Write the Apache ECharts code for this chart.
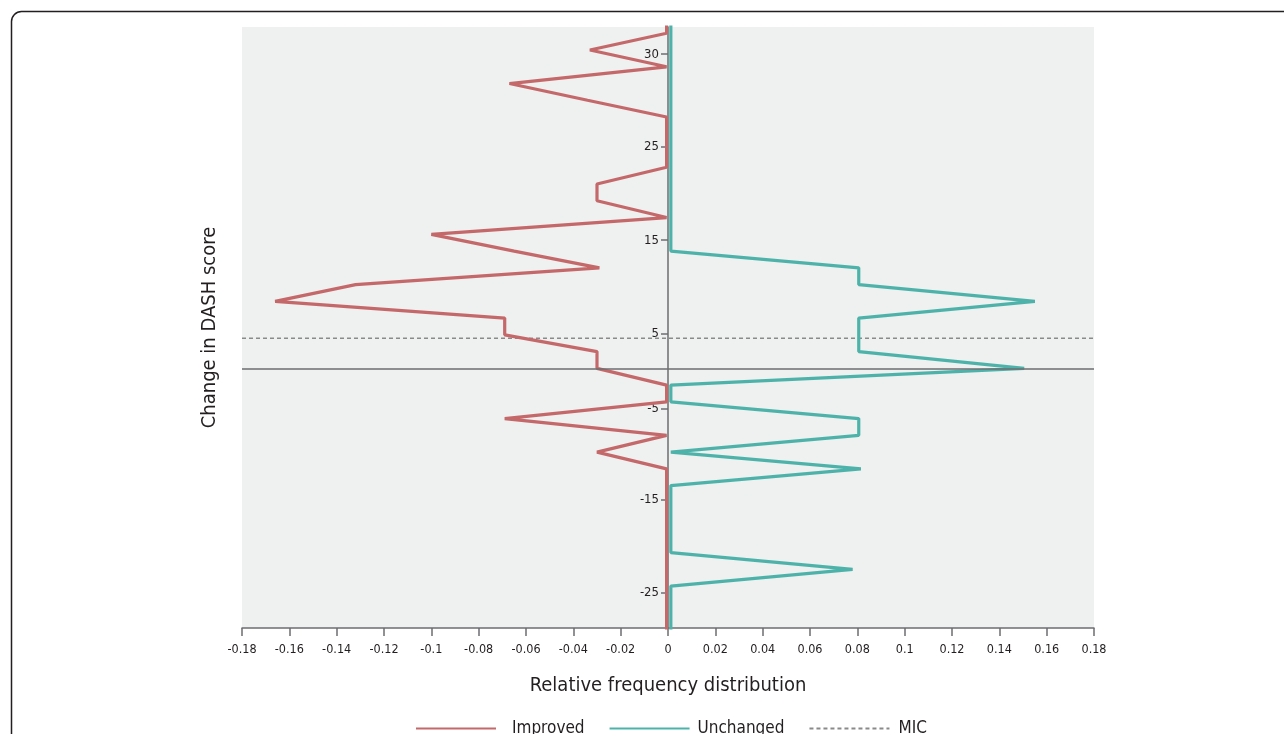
<!DOCTYPE html>
<html>
<head>
<meta charset="utf-8">
<script src="https://cdn.jsdelivr.net/npm/echarts@6/dist/echarts.min.js"></script>
<style>
  html, body { margin: 0; padding: 0; background: #fff; }
  #chart { width: 1284px; height: 734px; }
</style>
</head>
<body>
<div id="chart"></div>
<script>
// vertical position of every polygon vertex (score bins, step 2)
const scoreBins = [42, 40, 38, 36, 34, 32, 30, 28, 26, 24, 22, 20, 18, 16, 14, 12, 10, 8, 6, 4, 2, 0,
  -2, -4, -6, -8, -10, -12, -14, -16, -18, -20, -22, -24, -26, -28, -30, -32];

// relative frequency, improved group (drawn to the left)
const improved = [-0.0006, -0.0006, -0.033, -0.0006, -0.067, -0.034, -0.0006, -0.0006, -0.0006, -0.0006,
  -0.030, -0.030, -0.0006, -0.100, -0.065, -0.029, -0.132, -0.166, -0.069, -0.069, -0.030, -0.030,
  -0.0006, -0.0006, -0.069, -0.0006, -0.030, -0.0006, -0.0006, -0.0006, -0.0006, -0.0006, -0.0006,
  -0.0006, -0.0006, -0.0006, -0.0006, -0.0006];

// relative frequency, unchanged group (drawn to the right)
const unchanged = [0.0012, 0.0012, 0.0012, 0.0012, 0.0012, 0.0012, 0.0012, 0.0012, 0.0012, 0.0012,
  0.0012, 0.0012, 0.0012, 0.0012, 0.0012, 0.0806, 0.0806, 0.155, 0.0806, 0.0806, 0.0806, 0.1505,
  0.0012, 0.0012, 0.0806, 0.0806, 0.0012, 0.0815, 0.0012, 0.0012, 0.0012, 0.0012, 0.0012,
  0.078, 0.0012, 0.0012, 0.0012, 0.0012];

const micValue = 3.6;

// y tick labels as printed on the figure, and where they sit
const yTickPos = [37.5, 26.5, 15.3, 4.1, -4.8, -15.7, -26.8];
const yTickText = ['30', '25', '15', '5', '-5', '-15', '-25'];

const font = "'DejaVu Sans Condensed','Liberation Sans Narrow',sans-serif";
const axisGrey = '#6d6e71';
const textCol = '#231f20';

const chart = echarts.init(document.getElementById('chart'));

const option = {
  animation: false,
  textStyle: { fontFamily: font, color: textCol },
  graphic: [{
    type: 'rect',
    left: 9, top: 9,
    silent: true,
    shape: { width: 1400, height: 900, r: 10 },
    style: { fill: 'none', stroke: textCol, lineWidth: 1.5 }
  }],
  grid: {
    left: 242, right: 190, top: 27, bottom: 106,
    containLabel: false, outerBoundsMode: 'none',
    show: true, backgroundColor: '#eff0f0', borderWidth: 0
  },
  legend: {
    left: 410, top: 715,
    itemWidth: 80, itemHeight: 12, itemGap: 24,
    itemStyle: { opacity: 0 },
    textStyle: { fontFamily: font, fontSize: 17, color: textCol, padding: [0, 0, 0, 4] },
    data: [
      { name: 'Improved', textStyle: { padding: [0, 0, 0, 11] } },
      { name: 'Unchanged', textStyle: { padding: [0, 0, 0, 3] } },
      'MIC'
    ]
  },
  xAxis: {
    type: 'value',
    min: -0.18, max: 0.18, interval: 0.02,
    name: 'Relative frequency distribution',
    nameLocation: 'middle', nameGap: 48,
    nameTextStyle: { fontFamily: font, fontSize: 20, color: textCol },
    axisLine: { onZero: false, lineStyle: { color: axisGrey, width: 1.5 } },
    axisTick: { length: 8, lineStyle: { color: axisGrey, width: 1.5 } },
    axisLabel: { fontFamily: font, fontSize: 12.5, color: textCol, margin: 15 },
    splitLine: { show: false }
  },
  yAxis: {
    type: 'value',
    position: 'left',
    offset: -426,
    min: -31, max: 40.75,
    name: 'Change in DASH score',
    nameLocation: 'middle', nameGap: 448,
    nameMoveOverlap: false,
    nameTextStyle: { fontFamily: font, fontSize: 20, color: textCol },
    axisLine: { show: true, onZero: false, lineStyle: { color: axisGrey, width: 1.5 } },
    axisTick: { show: true, length: 7, customValues: yTickPos, lineStyle: { color: axisGrey, width: 1.5 } },
    axisLabel: {
      customValues: yTickPos,
      fontFamily: font, fontSize: 13, color: textCol, margin: 9,
      formatter: function (v) {
        let k = 0;
        yTickPos.forEach((p, i) => { if (Math.abs(p - v) < Math.abs(yTickPos[k] - v)) k = i; });
        return yTickText[k];
      }
    },
    splitLine: { show: false }
  },
  series: [
    {
      name: 'MIC', type: 'line', z: 1,
      symbol: 'none',
      data: [[-0.18, micValue], [0.18, micValue]],
      lineStyle: { color: '#8a8a8a', width: 1.5, type: [4, 3] },
      itemStyle: { color: '#8a8a8a' },
      markLine: {
        silent: true, symbol: 'none',
        label: { show: false },
        lineStyle: { color: axisGrey, type: 'solid', width: 1.5 },
        data: [{ yAxis: 0 }]
      }
    },
    {
      name: 'Improved', type: 'line', z: 3,
      symbol: 'none',
      data: scoreBins.map((b, i) => [improved[i], b]),
      lineStyle: { color: '#c4686a', width: 3.2 },
      itemStyle: { color: '#c4686a' }
    },
    {
      name: 'Unchanged', type: 'line', z: 3,
      symbol: 'none',
      data: scoreBins.map((b, i) => [unchanged[i], b]),
      lineStyle: { color: '#4db3aa', width: 3.2 },
      itemStyle: { color: '#4db3aa' }
    }
  ]
};

chart.setOption(option);
</script>
</body>
</html>
